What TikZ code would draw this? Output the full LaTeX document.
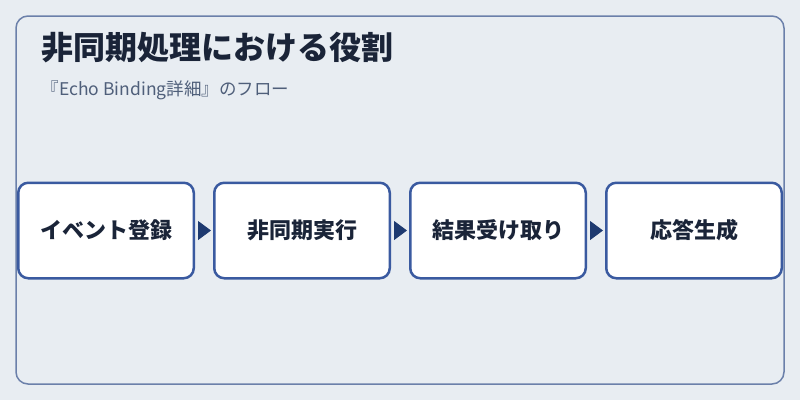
\documentclass[tikz,border=0pt]{standalone}
\usepackage{fontspec}
\setmainfont{Noto Sans CJK JP}
\usetikzlibrary{arrows.meta}
\definecolor{bgc}{HTML}{E8EDF2}
\definecolor{framec}{HTML}{6B80AA}
\definecolor{titlec}{HTML}{1A2438}
\definecolor{subc}{HTML}{4F5F7A}
\definecolor{boxc}{HTML}{3A5AA0}
\definecolor{arrowc}{HTML}{1E3A70}
\tikzset{
  stepbox/.style={draw=boxc, line width=2.5pt, fill=white, rounded corners=10pt,
    minimum width=175.5pt, minimum height=95.5pt, inner sep=0pt,
    font=\fontsize{22}{25}\selectfont\bfseries, text=titlec},
  flow/.style={draw=arrowc, line width=1pt, -{Triangle[length=13pt,width=19pt]},
    shorten <=3pt, shorten >=2pt},
}
\begin{document}
\begin{tikzpicture}[x=1pt,y=-1pt]
\useasboundingbox[fill=bgc] (0,0) rectangle (800,400);
\draw[framec, line width=1.5pt, rounded corners=12pt] (16,16) rectangle (784,384);
\node[anchor=base west, inner sep=0pt, text=titlec, font=\fontsize{32}{37}\selectfont\bfseries] (title) at (41.5,59.5) {非同期処理における役割};
\node[anchor=base west, inner sep=0pt, text=subc, font=\fontsize{17.5}{20}\selectfont] (sub) at (41.5,95.5) {『Echo Binding詳細』のフロー};
\node[stepbox] (a) at (106,230.5) {\raisebox{-1pt}{イベント登録}};
\node[stepbox] (b) at (302,230.5) {\raisebox{-1pt}{非同期実行}};
\node[stepbox] (c) at (498,230.5) {\raisebox{-1pt}{結果受け取り}};
\node[stepbox] (d) at (694,230.5) {\raisebox{-1pt}{応答生成}};
\draw[flow] (a) -- (b);
\draw[flow] (b) -- (c);
\draw[flow] (c) -- (d);
\end{tikzpicture}
\end{document}
